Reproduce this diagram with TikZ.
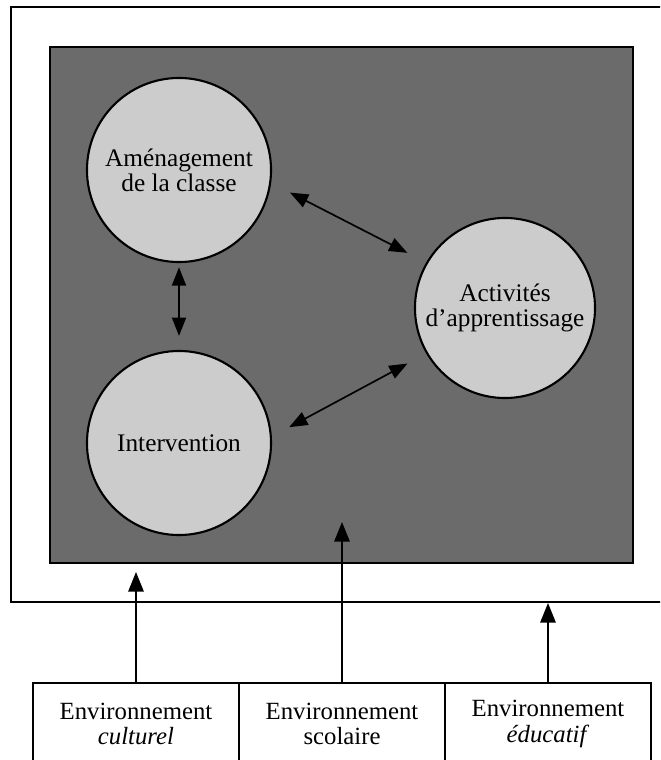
\documentclass[tikz,border=0pt]{standalone}
\usepackage{fontspec}
\setmainfont{Liberation Serif}
\usepackage{xcolor}
\usetikzlibrary{arrows.meta}

\begin{document}
\begin{tikzpicture}[x=0.025cm,y=-0.025cm,
        zone/.style={circle,draw,line width=1.5pt,fill=black!20,minimum size=4.6cm,
            inner sep=0pt,align=center,font=\fontsize{18}{18}\selectfont},
        envbox/.style={draw,line width=1pt,fill=white,minimum width=5.15cm,minimum height=2.05cm,
            inner sep=0pt,align=center,font=\fontsize{17.6}{18}\selectfont},
        link/.style={line width=1.2pt,{Triangle[length=13pt,width=10pt]}-{Triangle[length=13pt,width=10pt]}},
        push/.style={line width=1.2pt,-{Triangle[length=14pt,width=11pt]}}]
        \useasboundingbox (0,0) rectangle (660,760);
        \clip (0,0) rectangle (660,760);
        % Frames
        \draw[line width=1.2pt] (690,7) -- (11,7) -- (11,602) -- (690,602);
        \draw[line width=1.5pt,fill=black!58] (50,47) rectangle (633,563);
        % Circles
        \node[zone] (amen) at (179,170) {Aménagement\\de la classe};
        \node[zone] (inter) at (179,443) {Intervention};
        \node[zone,minimum size=4.5cm] (activ) at (505,308) {Activités\\d'apprentissage};
        % Links between circles
        \draw[link,shorten <=3pt,shorten >=10pt] (amen.south) -- (inter.north);
        \draw[link,shorten <=15pt,shorten >=15pt] (amen.-8) -- (activ.150);
        \draw[link,shorten <=14pt,shorten >=15pt] (inter.4) -- (activ.210);
        % Environments
        \node[envbox] (cult) at (136,724) {Environnement\\\textit{culturel}};
        \node[envbox] (scol) at (342,724) {Environnement\\scolaire};
        \node[envbox] (educ) at (548,724) {Environnement\\\textit{éducatif}};
        \coordinate (cultend) at (136,572);
        \coordinate (scolend) at (342,522);
        \coordinate (educend) at (548,603);
        \draw[push] (cult.north) -- (cultend);
        \draw[push] (scol.north) -- (scolend);
        \draw[push] (educ.north) -- (educend);
    \end{tikzpicture}
\end{document}
